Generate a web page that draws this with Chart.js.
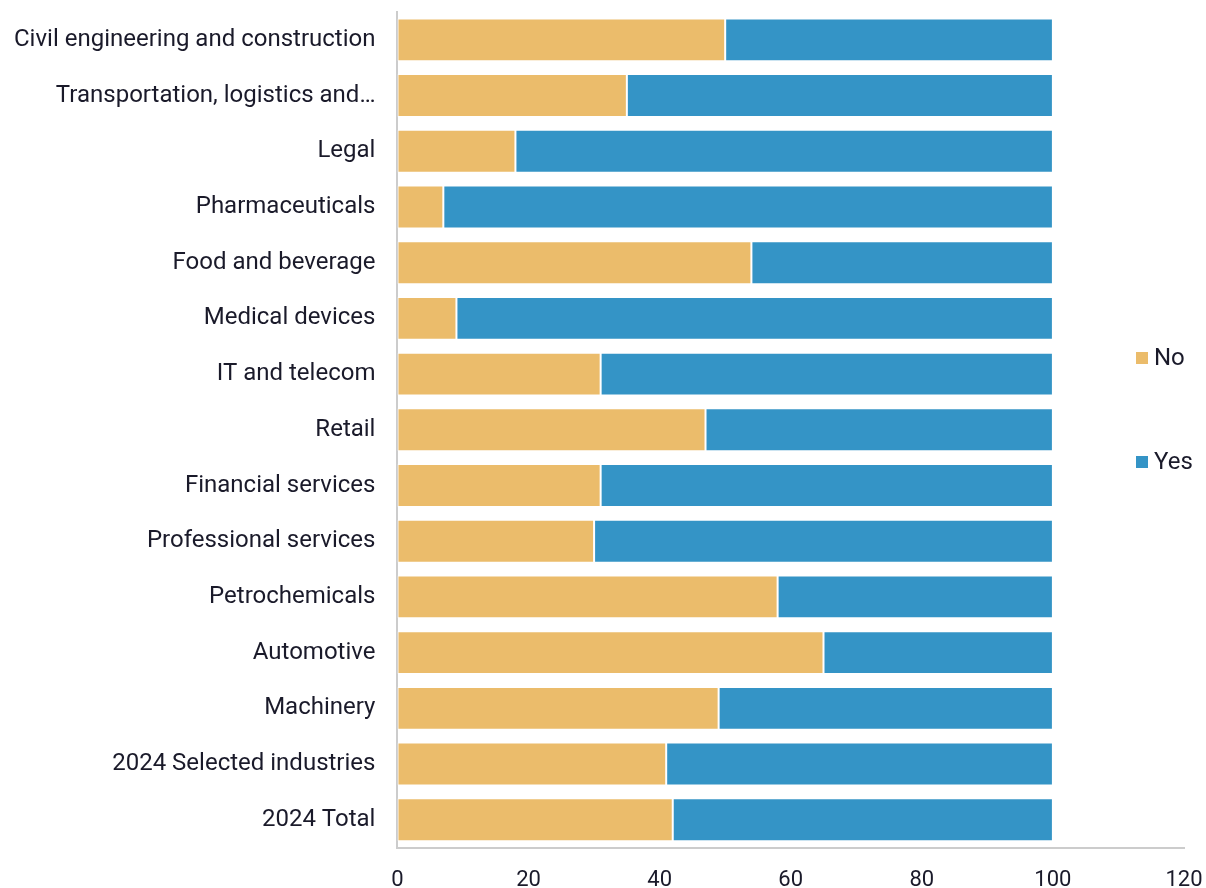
<!DOCTYPE html>
<html>
<head>
<meta charset="utf-8">
<script src="https://cdn.jsdelivr.net/npm/chart.js@4.4.1/dist/chart.umd.min.js"></script>
<style>
  body { margin: 0; background: #fff; }
  #wrap { position: relative; width: 1206px; height: 888px; }
  #legend { position: absolute; left: 1136px; top: 343px; font: 24px Roboto, sans-serif; color: #1a1a2a; }
  #legend div { height: 28px; line-height: 28px; margin-bottom: 76px; }
  #legend span { display: inline-block; width: 12px; height: 12px; margin-right: 6px; vertical-align: 1px; }
</style>
</head>
<body>
<div id="wrap">
  <canvas id="chart"></canvas>
  <div id="legend"></div>
</div>
<script>
const industries = [
    'Civil engineering and construction',
    'Transportation, logistics and\u2026',
    'Legal',
    'Pharmaceuticals',
    'Food and beverage',
    'Medical devices',
    'IT and telecom',
    'Retail',
    'Financial services',
    'Professional services',
    'Petrochemicals',
    'Automotive',
    'Machinery',
    '2024 Selected industries',
    '2024 Total'
];
const noShare  = [50, 35, 18, 7, 54, 9, 31, 47, 31, 30, 58, 65, 49, 41, 42];
const yesShare = [50, 65, 82, 93, 46, 91, 69, 53, 69, 70, 42, 35, 51, 59, 58];

const textColor = '#1a1a2a';
const series = [
    { label: 'No', data: noShare, color: '#EBBC6B' },
    { label: 'Yes', data: yesShare, color: '#3494C6' }
];

const ctx = document.getElementById('chart').getContext('2d');
new Chart(ctx, {
    type: 'bar',
    data: {
        labels: industries,
        datasets: series.map(s => ({
            label: s.label,
            data: s.data,
            backgroundColor: s.color,
            borderColor: '#ffffff',
            borderWidth: 1,
            borderSkipped: false,
            categoryPercentage: 1,
            barPercentage: 0.77
        }))
    },
    options: {
        indexAxis: 'y',
        responsive: true,
        maintainAspectRatio: false,
        animation: false,
        layout: { padding: { left: -8, right: 22, top: 12, bottom: -26 } },
        plugins: {
            legend: { display: false },
            tooltip: { enabled: false }
        },
        scales: {
            x: {
                stacked: true,
                min: 0,
                max: 120,
                ticks: { stepSize: 20, padding: 20, color: textColor, font: { family: 'Roboto', size: 22 } },
                grid: { display: false, drawTicks: false },
                border: { display: true, color: '#cccccc', width: 2 },
                // don't reserve side room for the end labels
                afterFit: scale => { scale.paddingLeft = 0; scale.paddingRight = 0; }
            },
            y: {
                stacked: true,
                ticks: { padding: 22, color: textColor, font: { family: 'Roboto', size: 24 } },
                grid: { display: false, drawTicks: false },
                border: { display: true, color: '#cccccc', width: 2 },
                afterFit: scale => { scale.paddingTop = 0; scale.paddingBottom = 0; }
            }
        }
    }
});

// legend sits on the right, spread out vertically
const legend = document.getElementById('legend');
series.forEach(s => {
    const row = document.createElement('div');
    const box = document.createElement('span');
    box.style.background = s.color;
    row.appendChild(box);
    row.appendChild(document.createTextNode(s.label));
    legend.appendChild(row);
});
</script>
</body>
</html>
